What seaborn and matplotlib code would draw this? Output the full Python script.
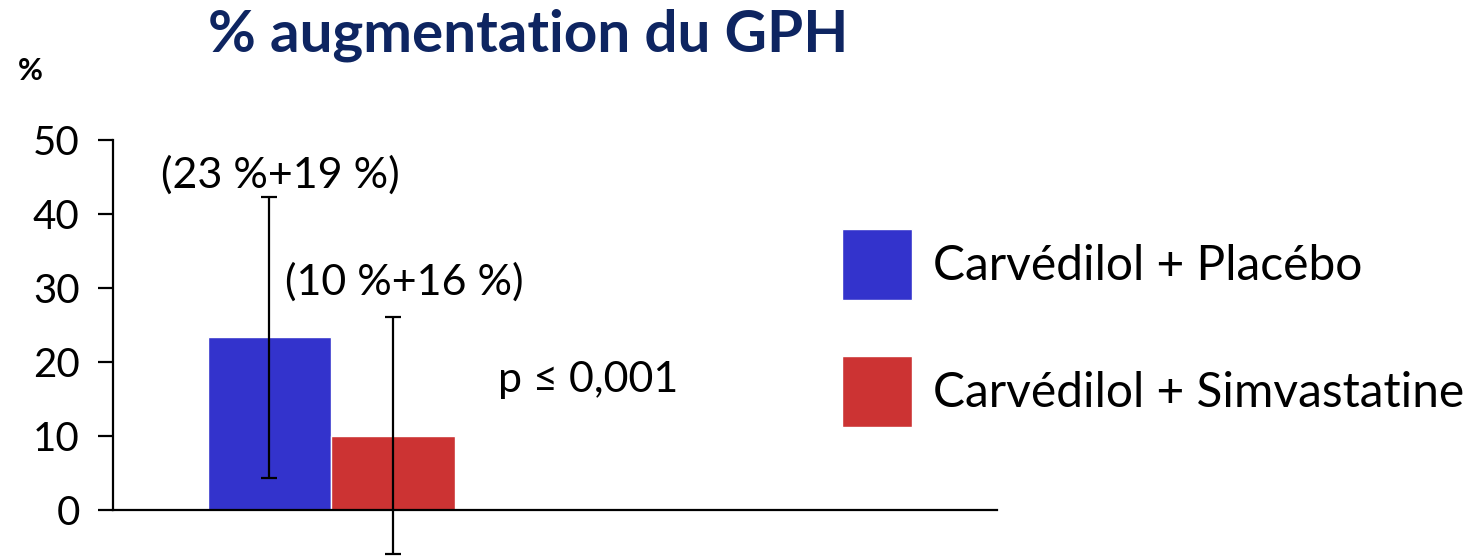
import pandas as pd
import matplotlib
matplotlib.use("Agg")
import matplotlib.pyplot as plt
import seaborn as sns

# Data
groupes = ["Carvédilol + Placébo", "Carvédilol + Simvastatine"]
moyennes = [23.3, 10.0]
ecarts = [19.0, 16.0]
etiquettes = ["(23 %+19 %)", "(10 %+16 %)"]
couleurs = ["#3333CC", "#CC3333"]
yticks = [0, 10, 20, 30, 40, 50]

df = pd.DataFrame({"cat": ["GPH", "GPH"], "groupe": groupes, "moyenne": moyennes})

sns.set_theme(style="ticks")
plt.rcParams["font.family"] = ["Lato", "DejaVu Sans"]
plt.rcParams["text.color"] = "black"

fig = plt.figure(figsize=(14.83, 5.59), dpi=100)
ax = fig.add_axes([0.0762, 0.0877, 0.5961, 0.6627])

sns.barplot(data=df, x="cat", y="moyenne", hue="groupe", hue_order=groupes,
            palette=couleurs, saturation=1, width=0.8, errorbar=None, ax=ax)
ax.get_legend().remove()

ax.set_ylim(0, 50)
ax.set_xlim(-0.706, 2.155)
ax.set_yticks(yticks)
ax.set_xlabel("")
ax.set_ylabel("")
sns.despine(ax=ax)
for s in ["left", "bottom"]:
    ax.spines[s].set_color("black")
    ax.spines[s].set_linewidth(1.6)
ax.tick_params(axis="y", length=11, width=1.6, color="black", pad=13,
               labelsize=29, labelcolor="black")
ax.tick_params(axis="x", bottom=False, labelbottom=False)

# error bars and labels above them
bars = ax.patches[:len(groupes)]
offsets = [(8, 6.5), (8, 16.5)]
for p, m, sd, lab, off in zip(bars, moyennes, ecarts, etiquettes, offsets):
    xc = p.get_x() + p.get_width() / 2
    ax.errorbar(xc, m, yerr=sd, color="black", elinewidth=1.6, capsize=5.5,
                capthick=1.6, clip_on=False, zorder=5)
    ax.annotate(lab, xy=(xc, m + sd), xytext=off, textcoords="offset points",
                ha="center", va="baseline", fontsize=31, color="black",
                annotation_clip=False)

ax.text(0.4355, 0.3185, "p ≤ 0,001", transform=ax.transAxes, ha="left",
        va="baseline", fontsize=31, color="black")

# legend on the right
ax.legend(handles=bars, labels=groupes, loc="upper left",
          bbox_to_anchor=(0.5678, 0.5903), bbox_transform=fig.transFigure,
          frameon=False, fontsize=34.5, handlelength=1.47, handleheight=1.91,
          labelspacing=1.16, handletextpad=0.42, borderpad=0, borderaxespad=0,
          labelcolor="black")

fig.text(0.1403, 0.907, "% augmentation du GPH", fontsize=42, fontweight="bold",
         color="#0E2561", ha="left", va="baseline")
fig.text(0.0121, 0.857, "%", fontsize=22, fontweight="bold", color="black",
         ha="left", va="baseline")

fig.savefig("out.png", dpi=100)
